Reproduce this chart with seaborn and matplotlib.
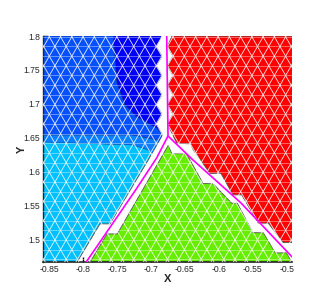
import pandas as pd
import matplotlib
matplotlib.use("Agg")
import matplotlib.pyplot as plt
from matplotlib.collections import LineCollection
from matplotlib.tri import Triangulation
import seaborn as sns

# mesh rows and columns (alternate rows are shifted half a column)
mesh_rows = [1.8130, 1.7988, 1.7846, 1.7703, 1.7561, 1.7419, 1.7276, 1.7134, 1.6991, 1.6849,
             1.6707, 1.6564, 1.6422, 1.6280, 1.6137, 1.5995, 1.5852, 1.5710, 1.5568, 1.5425,
             1.5283, 1.5140, 1.4998, 1.4856, 1.4713, 1.4571]
mesh_cols = [-0.8832, -0.8666, -0.85, -0.8334, -0.8168, -0.8002, -0.7836, -0.767, -0.7504,
             -0.7338, -0.7172, -0.7006, -0.684, -0.6674, -0.6508, -0.6342, -0.6176, -0.601,
             -0.5844, -0.5678, -0.5512, -0.5346, -0.518, -0.5014, -0.4848, -0.4682]

# left block
blue_x = [-0.8593, -0.6838, -0.6923, -0.6838, -0.6923, -0.6838, -0.6923, -0.6838, -0.6923,
          -0.6838, -0.6923, -0.6830, -0.7040, -0.7605, -0.7752, -0.8091, -0.8593]
blue_y = [1.8000, 1.8000, 1.7846, 1.7703, 1.7561, 1.7419, 1.7276, 1.7134, 1.6991,
          1.6849, 1.6707, 1.6544, 1.6176, 1.5235, 1.5235, 1.4672, 1.4672]
dark_x = [-0.7556, -0.7501, -0.7383, -0.7211, -0.6916, -0.6793, -0.6700, -0.6700]
dark_y = [1.8000, 1.7309, 1.6985, 1.6813, 1.6647, 1.6529, 1.6529, 1.8000]
mid_x = [-0.8593, -0.7556, -0.7501, -0.7383, -0.7211, -0.6916, -0.6793, -0.6793, -0.6916, -0.7266, -0.8593]
mid_y = [1.8000, 1.8000, 1.7309, 1.6985, 1.6813, 1.6647, 1.6529, 1.6397, 1.6471, 1.6544, 1.6544]
band_x = [-0.8593, -0.7266, -0.6916, -0.6793, -0.6793, -0.7044, -0.7266, -0.7752, -0.8593]
band_y = [1.6544, 1.6544, 1.6471, 1.6397, 1.6150, 1.6324, 1.6397, 1.6412, 1.6441]

# right block
red_x = [-0.6690, -0.4920, -0.4920, -0.5049, -0.5270, -0.5417, -0.5662, -0.5791, -0.5968,
         -0.6130, -0.6376, -0.6414, -0.6621, -0.6757, -0.6676, -0.6757, -0.6676, -0.6757,
         -0.6676, -0.6757, -0.6676, -0.6757]
red_y = [1.8000, 1.8000, 1.4960, 1.4960, 1.5246, 1.5246, 1.5662, 1.5662, 1.5978,
         1.5978, 1.6324, 1.6412, 1.6422, 1.6707, 1.6849, 1.6991, 1.7134, 1.7276,
         1.7419, 1.7561, 1.7703, 1.7846]

# lower wedge
green_x = [-0.7900, -0.7649, -0.7497, -0.6742, -0.6695, -0.6473, -0.6233, -0.6081, -0.5810,
           -0.5727, -0.5496, -0.5341, -0.5164, -0.4999, -0.4920]
green_y = [1.4672, 1.5088, 1.5088, 1.6397, 1.6272, 1.6265, 1.5831, 1.5824, 1.5540,
           1.5540, 1.5107, 1.5103, 1.4809, 1.4809, 1.4672]

# boundary lines
line_left_x = [-0.6768, -0.6749, -0.6916, -0.7226, -0.7959]
line_left_y = [1.8000, 1.6529, 1.6206, 1.5735, 1.4669]
line_right_x = [-0.6749, -0.6381, -0.5673, -0.4920]
line_right_y = [1.6529, 1.6176, 1.5544, 1.4750]

tick_x = [-0.85, -0.8, -0.75, -0.7, -0.65, -0.6, -0.55, -0.5]
tick_x_labels = ["-0.85", "-0.8", "-0.75", "-0.7", "-0.65", "-0.6", "-0.55", "-0.5"]
tick_y = [1.5, 1.55, 1.6, 1.65, 1.7, 1.75, 1.8]
tick_y_labels = ["1.5", "1.55", "1.6", "1.65", "1.7", "1.75", "1.8"]
minor_x = [-0.8375, -0.825, -0.8125, -0.7875, -0.775, -0.7625, -0.7375, -0.725, -0.7125,
           -0.6875, -0.675, -0.6625, -0.6375, -0.625, -0.6125, -0.5875, -0.575, -0.5625,
           -0.5375, -0.525, -0.5125]

sns.set_style("ticks")
plt.rcParams["font.family"] = ["Liberation Sans", "DejaVu Sans"]

fig = plt.figure(figsize=(3.32, 2.96), dpi=100)
ax = fig.add_axes([43 / 332, 1 - 262.3 / 296, 249 / 332, 226.3 / 296])

edge = "#555555"
outline = ax.fill(blue_x, blue_y, facecolor="#00c0ff", edgecolor=edge, lw=0.6, zorder=2)[0]
for xs, ys, col in [(band_x, band_y, "#0a80ff"), (mid_x, mid_y, "#0550fa"), (dark_x, dark_y, "#0000f5")]:
    p = ax.fill(xs, ys, facecolor=col, edgecolor="#10307a", lw=0.3, zorder=2.1)[0]
    p.set_clip_path(outline)
ax.fill(red_x, red_y, facecolor="#ff0000", edgecolor=edge, lw=0.6, zorder=2)
ax.fill(green_x, green_y, facecolor="#66ee00", edgecolor=edge, lw=0.6, zorder=2)

# white triangle mesh over the blocks, horizontal edges come out fainter
pts_x, pts_y = [], []
for i, row in enumerate(mesh_rows):
    for col in mesh_cols:
        pts_x.append(col + (0.0083 if i % 2 == 0 else 0.0))
        pts_y.append(row)
tri = Triangulation(pts_x, pts_y)
flat, slanted = [], []
for a, b in tri.edges:
    seg = [(pts_x[a], pts_y[a]), (pts_x[b], pts_y[b])]
    if pts_y[a] == pts_y[b]:
        flat.append(seg)
    else:
        slanted.append(seg)
ax.add_collection(LineCollection(flat, colors="white", linewidths=0.6, alpha=0.45, zorder=3))
ax.add_collection(LineCollection(slanted, colors="white", linewidths=0.6, alpha=0.9, zorder=3))

for xs, ys in [(line_left_x, line_left_y), (line_right_x, line_right_y)]:
    df = pd.DataFrame({"x": xs, "y": ys})
    sns.lineplot(data=df, x="x", y="y", sort=False, estimator=None, color="#ff00ff", lw=1.2, ax=ax, zorder=4)

ax.set_xlim(-0.8593, -0.4920)
ax.set_ylim(1.4670, 1.8000)
ax.set_xticks(tick_x, tick_x_labels)
ax.set_yticks(tick_y, tick_y_labels)
ax.set_xticks(minor_x, minor=True)
ax.tick_params(axis="both", which="major", direction="in", length=3.8, width=1.0, labelsize=6.2, pad=2, color="black")
ax.tick_params(axis="x", which="minor", direction="in", length=1.8, width=0.6, color="black")
ax.set_xlabel("X", fontsize=8, fontweight="bold", labelpad=0)
ax.set_ylabel("Y", fontsize=8, fontweight="bold", labelpad=-2)

ax.spines["top"].set_visible(False)
ax.spines["right"].set_visible(False)
ax.spines["left"].set_linewidth(1.0)
ax.spines["bottom"].set_linewidth(1.2)

fig.savefig("out.png", dpi=100)
